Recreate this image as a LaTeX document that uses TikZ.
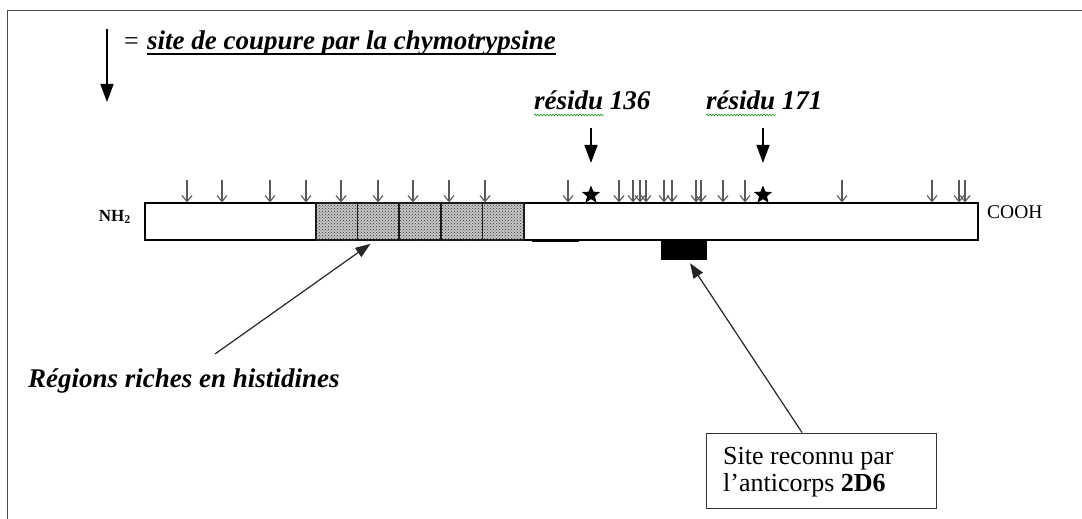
\documentclass[tikz,border=0pt]{standalone}
\usepackage{fontspec}
\setmainfont{Liberation Serif}
\usetikzlibrary{arrows.meta,shapes.geometric,patterns,decorations.pathmorphing}
\newcommand\bigbi{\fontsize{27}{30}\selectfont\bfseries\itshape}
\begin{document}
\begin{tikzpicture}[x=1pt,y=-1pt,
  cut/.style={draw=black!65, line width=1.1pt, -{Straight Barb[length=6pt,width=10pt,line width=1.1pt]}},
  pointer/.style={draw=black!85, line width=1.2pt, -{Triangle[length=15pt,width=11pt]}},
  bigdown/.style={draw=black, line width=1.6pt, -{Triangle[length=18pt,width=13pt]}},
  histbox/.style={draw=black!90, line width=1.7pt, minimum width=41.6pt, minimum height=37pt, inner sep=0pt,
    fill=gray!45, postaction={pattern=crosshatch dots, pattern color=black!80}},
  mark star/.style={star, star points=5, star point ratio=2.3, fill=black, draw=none, minimum size=19pt, inner sep=0pt},
  squiggle/.style={draw=green!55!black, line width=0.5pt, decorate,
    decoration={snake, amplitude=0.9pt, segment length=3pt}},
  label/.style={inner sep=0pt, anchor=base west}
]
\useasboundingbox (0,0) rectangle (1082,519);
\fill[white] (0,0) rectangle (1082,519);

% outer frame (open at right and bottom)
\draw[black!70, line width=1pt] (7,519) -- (7,11) -- (1082,11);

% legend
\coordinate (lgtop) at (107,29);
\coordinate (lgtip) at (107,102);
\draw[bigdown] (lgtop) -- (lgtip);
\node[label, font=\fontsize{26}{30}\selectfont] (eq) at (124,50) {=};
\node[label, font=\bigbi] (leg) at (147,50) {site de coupure par la chymotrypsine};
\draw[line width=2pt] ([yshift=-4pt]leg.base west) -- ([yshift=-4pt]leg.base east);

% protein bar
\node[draw, line width=1.3pt, minimum width=833pt, minimum height=37pt, inner sep=0pt] (bar) at (561.5,221.5) {};

% histidine-rich regions
\foreach \i/\cx in {1/336.8, 2/378.4, 3/420, 4/461.6, 5/503.2}
  \node[histbox] (h\i) at (\cx,221.5) {};

% thicker segment of the lower edge
\draw[line width=2.4pt] (bar.south -| 532,0) -- (bar.south -| 579,0);

% epitope of 2D6
\node[fill=black, minimum width=46pt, minimum height=20pt, inner sep=0pt] (epi) at (684,250) {};

% termini
\node[font=\fontsize{17}{20}\selectfont\bfseries, anchor=east, inner sep=0pt] (nh) at (131,217) {NH\textsubscript{2}};
\node[font=\fontsize{19.5}{20}\selectfont, anchor=west, inner sep=0pt] (cooh) at (987,212) {COOH};

% chymotrypsin cleavage sites
\foreach \x in {187,222,270,306,341,378,413,449,485,568,619,633,640,646,664,672,696,701,723,745,842,932,959,965}
  \draw[cut] (\x,180) -- (bar.north -| \x,0);

% marked residues
\node[mark star] (s1) at (591,195) {};
\node[mark star] (s2) at (763,195) {};
\node[label, font=\bigbi] (r136) at (534,110) {résidu 136};
\node[label, font=\bigbi] (r171) at (706,110) {résidu 171};
\draw[squiggle] ([yshift=-5pt]r136.base west) -- ++(70,0);
\draw[squiggle] ([yshift=-5pt]r171.base west) -- ++(70,0);
\draw[bigdown] ([yshift=-18pt]r136.base west -| s1) -- ([yshift=22pt]s1.north);
\draw[bigdown] ([yshift=-18pt]r171.base west -| s2) -- ([yshift=22pt]s2.north);

% histidine label and pointer
\node[label, font=\bigbi] (his) at (28,387) {Régions riches en histidines};
\coordinate (hisfoot) at (215,354);
\draw[pointer] (hisfoot) -- ([shift={(-8pt,-3pt)}]h2.south);

% antibody label box and pointer
\node[draw=black!80, line width=1pt, minimum width=230pt, minimum height=75pt, inner sep=0pt] (ab) at (821,470.5) {};
\node[anchor=north west, inner sep=0pt, align=left, font=\fontsize{26}{27}\selectfont] (abtext) at (723,447)
      {Site reconnu par\\l’anticorps \textbf{2D6}};
\draw[pointer] ([xshift=-19pt]ab.north) -- ([shift={(6pt,-3pt)}]epi.south);
\end{tikzpicture}
\end{document}
